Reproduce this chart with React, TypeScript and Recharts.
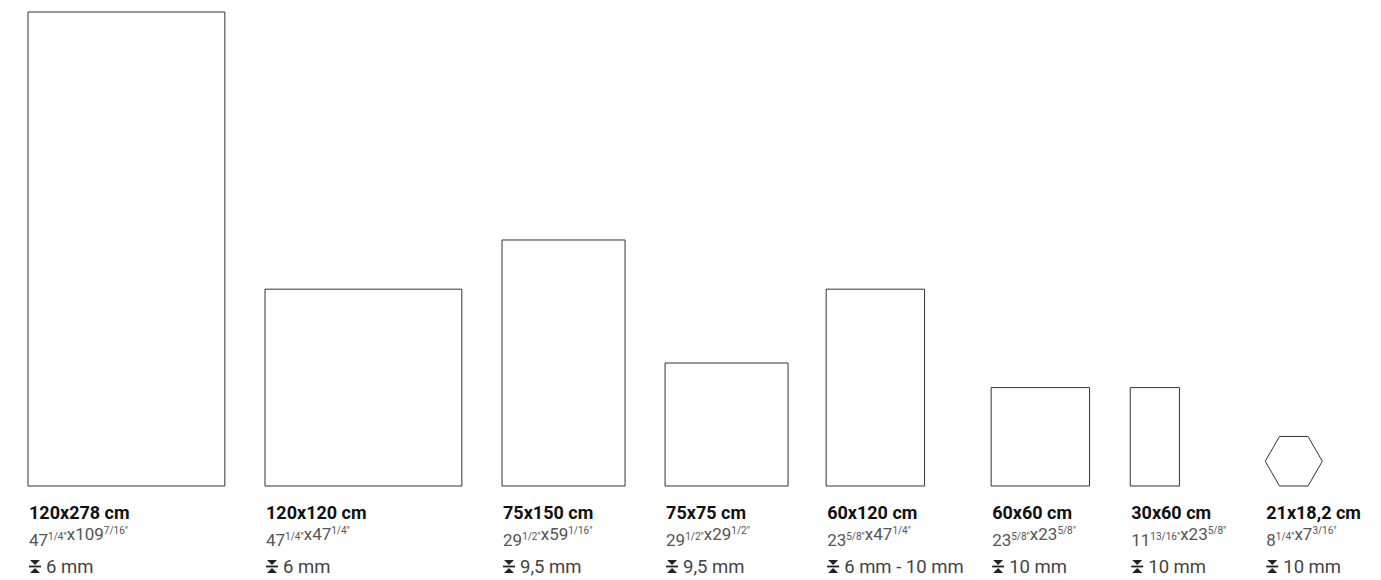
import { ComposedChart, XAxis, YAxis, ReferenceArea } from 'recharts'

// nominal tile sizes (labels)
const sizeLabels = ['120x278 cm', '120x120 cm', '75x150 cm', '75x75 cm', '60x120 cm', '60x60 cm', '30x60 cm', '21x18,2 cm']
const inchWidth = ['47 1/4', '47 1/4', '29 1/2', '29 1/2', '23 5/8', '23 5/8', '11 13/16', '8 1/4']
const inchHeight = ['109 7/16', '47 1/4', '59 1/16', '29 1/2', '47 1/4', '23 5/8', '23 5/8', '7 3/16']
const thickness = ['6 mm', '6 mm', '9,5 mm', '9,5 mm', '6 mm - 10 mm', '10 mm', '10 mm', '10 mm']

// drawn outline size of each tile, in cm
const drawnWidth = [120, 120, 75, 75, 60, 60, 30, 34.8]
const drawnHeight = [289, 120, 150, 75, 120, 60, 60, 30.2]
const shapes = ['rect', 'rect', 'rect', 'rect', 'rect', 'rect', 'rect', 'hex']

// layout: left edge of every column on the cm axis
const colLeft = [0, 144.5, 289, 388.4, 486.6, 587.2, 672, 754.3]

const FONT = 'Roboto, "DejaVu Sans", sans-serif'

const rows = sizeLabels.map((label, i) => ({ label, left: colLeft[i] }))

const Hexagon = (props: { x?: number; y?: number; width?: number; height?: number }) => {
  const { x = 0, y = 0, width = 0, height = 0 } = props
  const q = width / 4
  const pts = [
    [x, y + height / 2],
    [x + q, y],
    [x + width - q, y],
    [x + width, y + height / 2],
    [x + width - q, y + height],
    [x + q, y + height],
  ]
  return <polygon points={pts.map(p => p.join(',')).join(' ')} fill="#fff" stroke="#333" strokeWidth={1} />
}

const Inch = ({ value }: { value: string }) => {
  const [whole, frac] = value.split(' ')
  return (
    <>
      <tspan>{whole}</tspan>
      <tspan fontSize={10} dy={-6}>{`${frac}"`}</tspan>
      <tspan dy={6}></tspan>
    </>
  )
}

const TileTick = (props: { x?: number; y?: number; payload?: { value: number } }) => {
  const { x = 0, y = 0, payload } = props
  const i = payload ? colLeft.indexOf(payload.value) : 0
  if (i < 0) return null
  const tx = x + 1
  return (
    <g>
      <text x={tx} y={y + 33} fontFamily={FONT} fontSize={18} fontWeight="bold" fill="#111">
        {sizeLabels[i]}
      </text>
      <text x={tx} y={y + 60} fontFamily={FONT} fontSize={17} fill="#555">
        <Inch value={inchWidth[i]} />
        <tspan>x</tspan>
        <Inch value={inchHeight[i]} />
      </text>
      <g fill="#222">
        <path d={`M${tx + 1},${y + 74} L${tx + 11},${y + 74} L${tx + 6},${y + 79} Z`} />
        <rect x={tx} y={y + 79.6} width={12} height={1.8} />
        <path d={`M${tx + 1},${y + 87} L${tx + 11},${y + 87} L${tx + 6},${y + 82} Z`} />
      </g>
      <text x={tx + 17} y={y + 87} fontFamily={FONT} fontSize={18.5} fill="#444">
        {thickness[i]}
      </text>
    </g>
  )
}

export default function App() {
  return (
    <ComposedChart
      width={1373}
      height={572}
      data={rows}
      margin={{ top: 4, right: 8, left: 20, bottom: 0 }}
    >
      <XAxis
        type="number"
        dataKey="left"
        domain={[0, 820]}
        allowDataOverflow
        ticks={colLeft}
        tick={<TileTick />}
        tickSize={0}
        tickMargin={0}
        axisLine={false}
        tickLine={false}
        height={94}
        interval={0}
      />
      <YAxis type="number" domain={[0, 289]} allowDataOverflow hide />
      {shapes.map((s, i) =>
        s === 'hex' ? (
          <ReferenceArea
            key={i}
            x1={colLeft[i]}
            x2={colLeft[i] + drawnWidth[i]}
            y1={0}
            y2={drawnHeight[i]}
            shape={<Hexagon />}
            ifOverflow="visible"
          />
        ) : (
          <ReferenceArea
            key={i}
            x1={colLeft[i]}
            x2={colLeft[i] + drawnWidth[i]}
            y1={0}
            y2={drawnHeight[i]}
            fill="#fff"
            fillOpacity={1}
            stroke="#333"
            strokeWidth={1}
            ifOverflow="visible"
          />
        )
      )}
    </ComposedChart>
  )
}
